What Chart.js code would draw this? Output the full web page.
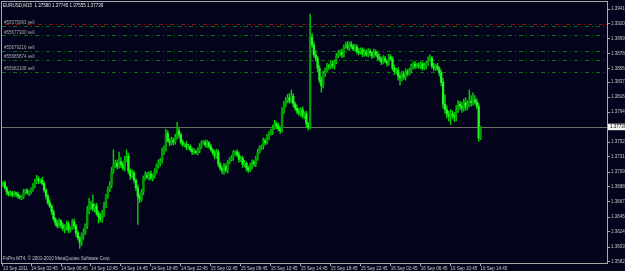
<!DOCTYPE html>
<html>
<head>
<meta charset="utf-8">
<script src="https://cdn.jsdelivr.net/npm/chart.js@4.4.1/dist/chart.umd.min.js"></script>
<style>
  html, body { margin: 0; padding: 0; background: #03031b; overflow: hidden; }
</style>
</head>
<body>
<canvas id="Plot" width="625" height="271"></canvas>
<script>
// EURUSD M15 closes, one per bar (open = previous close)
var firstOpen = 1.3692;
var closes = [
  1.3694,1.3687,1.3681,1.3678,1.3680,1.3677,1.3680,1.3678,1.3675,1.3673,1.3674,1.3681,1.3683,1.3680,1.3681,1.3684,
  1.3690,1.3695,1.3700,1.3697,1.3698,1.3693,1.3684,1.3675,1.3666,1.3661,1.3653,1.3643,1.3637,1.3633,1.3640,1.3634,
  1.3629,1.3633,1.3636,1.3627,1.3630,1.3639,1.3633,1.3623,1.3616,1.3609,1.3619,1.3624,1.3633,1.3653,1.3660,1.3664,
  1.3657,1.3661,1.3651,1.3646,1.3643,1.3649,1.3663,1.3675,1.3684,1.3691,1.3710,1.3720,1.3722,1.3717,1.3724,1.3720,
  1.3715,1.3727,1.3732,1.3711,1.3704,1.3708,1.3698,1.3687,1.3675,1.3671,1.3681,1.3701,1.3705,1.3702,1.3707,1.3701,
  1.3704,1.3710,1.3718,1.3722,1.3725,1.3738,1.3742,1.3764,1.3754,1.3751,1.3755,1.3752,1.3758,1.3768,1.3762,1.3752,
  1.3748,1.3749,1.3745,1.3746,1.3741,1.3738,1.3739,1.3737,1.3741,1.3746,1.3751,1.3752,1.3748,1.3751,1.3746,1.3741,
  1.3737,1.3732,1.3738,1.3721,1.3715,1.3711,1.3718,1.3712,1.3724,1.3727,1.3729,1.3737,1.3738,1.3734,1.3727,1.3729,
  1.3720,1.3722,1.3715,1.3712,1.3718,1.3724,1.3721,1.3729,1.3738,1.3744,1.3746,1.3754,1.3751,1.3758,1.3764,1.3766,
  1.3772,1.3778,1.3775,1.3771,1.3768,1.3795,1.3805,1.3812,1.3815,1.3810,1.3817,1.3806,1.3800,1.3796,1.3793,1.3798,
  1.3789,1.3792,1.3778,1.3773,1.3901,1.3890,1.3876,1.3871,1.3857,1.3840,1.3832,1.3849,1.3854,1.3860,1.3859,1.3863,
  1.3860,1.3866,1.3874,1.3877,1.3880,1.3876,1.3887,1.3890,1.3886,1.3891,1.3888,1.3884,1.3887,1.3881,1.3879,1.3883,
  1.3877,1.3880,1.3876,1.3881,1.3879,1.3874,1.3880,1.3877,1.3873,1.3870,1.3866,1.3871,1.3867,1.3864,1.3873,1.3870,
  1.3857,1.3852,1.3854,1.3846,1.3843,1.3849,1.3844,1.3852,1.3849,1.3853,1.3860,1.3863,1.3859,1.3861,1.3860,1.3863,
  1.3857,1.3860,1.3864,1.3869,1.3871,1.3860,1.3857,1.3860,1.3856,1.3850,1.3837,1.3806,1.3798,1.3792,1.3789,1.3792,
  1.3790,1.3788,1.3798,1.3806,1.3803,1.3800,1.3808,1.3802,1.3805,1.3810,1.3808,1.3812,1.3809,1.3803,1.3758,1.37739
];
// wick lengths in pips above / below the body
var upperWick = [
  2,3,2,1,3,2,2,1,3,2,2,4,2,3,2,3,
  3,4,5,3,2,4,3,2,3,4,2,3,2,4,3,2,
  3,2,4,3,2,3,4,2,3,2,4,5,3,8,12,4,
  13,3,4,3,5,6,4,3,4,5,6,21,4,5,14,6,
  4,5,9,4,3,5,3,2,4,3,4,3,5,4,3,4,
  3,4,3,5,4,6,5,6,4,3,4,3,5,12,4,3,
  3,2,4,3,2,3,4,2,3,4,3,2,3,4,2,3,
  2,3,4,3,2,3,4,3,2,3,4,3,2,3,4,3,
  3,4,2,3,4,3,2,3,4,3,2,4,3,5,3,4,
  4,5,3,4,3,6,5,4,5,6,9,4,3,5,4,3,
  4,3,4,2,33,5,4,6,3,4,5,4,3,4,3,5,
  4,3,4,5,3,4,3,4,5,3,4,3,4,3,4,3,
  3,4,3,4,3,2,4,3,3,4,3,4,3,2,4,3,
  3,4,3,4,3,4,3,4,3,4,3,3,4,3,4,3,
  3,4,3,4,5,3,4,3,4,3,4,6,13,5,4,6,
  5,4,6,5,4,6,5,7,6,16,8,10,6,5,4,0.6
];
var lowerWick = [
  3,2,4,3,2,3,2,4,3,2,3,2,3,2,4,3,
  2,3,2,4,3,2,3,4,3,2,4,3,4,3,2,4,
  3,6,6,4,3,2,4,5,3,8,4,5,3,4,3,4,
  3,4,3,9,4,5,3,4,3,2,4,3,4,3,2,4,
  3,4,3,4,5,3,4,4,40,5,3,4,3,2,4,3,
  4,3,2,3,4,3,4,3,2,4,3,4,3,2,4,3,
  2,3,4,3,2,4,3,2,3,4,3,2,3,4,3,2,
  3,4,3,4,3,4,5,3,4,3,2,3,4,3,4,3,
  4,3,4,3,2,4,3,4,3,2,3,4,3,2,3,2,
  3,2,4,3,4,2,3,3,4,3,2,4,3,4,3,4,
  3,4,5,4,2,4,3,4,5,4,9,3,4,3,4,3,
  3,4,3,2,3,4,3,2,3,4,3,2,3,4,3,2,
  4,3,2,3,4,3,2,3,4,3,4,3,2,4,3,2,
  3,4,3,6,10,4,3,4,3,2,3,4,3,2,3,4,
  3,2,4,3,2,3,4,3,2,4,5,6,5,6,7,12,
  5,7,6,4,5,6,4,5,4,3,5,4,3,4,5,2.5
];

var priceTicks = [1.39410,1.39200,1.38990,1.38780,1.38565,1.38370,1.38160,1.37945,
                  1.37520,1.37310,1.37095,1.36885,1.36670,1.36455,1.36245,1.36030,1.35820];
var timeLabels = ['13 Sep 2011','14 Sep 02:45','14 Sep 06:45','14 Sep 10:45','14 Sep 14:45',
                  '14 Sep 18:45','14 Sep 22:45','15 Sep 02:45','15 Sep 06:45','15 Sep 10:45',
                  '15 Sep 14:45','15 Sep 18:45','15 Sep 22:45','16 Sep 02:45','16 Sep 06:45',
                  '16 Sep 10:45','16 Sep 14:45'];
var timeLabelBars = [0,15,31,47,63,79,95,111,127,143,159,175,191,207,223,239,255];

var orderTickets = ['#55575963 sell','#55677300 sell','#55679216 sell','#55685874 sell','#55682108 sell'];
var orderPrices = [1.39176,1.39041,1.38814,1.38693,1.38516];
var stopPrices = [1.39190];
var bid = 1.37739;
var header = 'EURUSD,M15  1.37580 1.37745 1.37555 1.37739';
var footer = 'FxPro MT4, \u00a9 2001-2010 MetaQuotes Software Corp.';

var slots = 323;
var FONT = '"Liberation Sans", Arial, sans-serif';

var labels = [];
for (var i = 0; i < slots; i++) labels.push('');
timeLabelBars.forEach(function(b, k){ labels[b] = timeLabels[k]; });

var bodies = [], wicks = [], bodyCol = [];
for (var i = 0; i < closes.length; i++) {
  var o = i == 0 ? firstOpen : closes[i-1];
  var c = closes[i];
  bodies.push([o, c]);
  wicks.push([Math.min(o,c) - lowerWick[i]*0.0001, Math.max(o,c) + upperWick[i]*0.0001]);
  bodyCol.push(c >= o ? '#009c00' : '#22f522');
}

var mt4 = {
  id: 'mt4',
  beforeDraw: function(chart){
    var c = chart.ctx;
    c.save();
    c.fillStyle = '#03031b';
    c.fillRect(0, 0, chart.width, chart.height);
    c.restore();
  },
  beforeDatasetsDraw: function(chart){
    var c = chart.ctx, a = chart.chartArea, y = chart.scales.y;
    c.save();
    c.lineWidth = 1;
    c.setLineDash([4,3,1,3]);
    orderPrices.forEach(function(p){
      var py = Math.round(y.getPixelForValue(p)) + 0.5;
      c.strokeStyle = '#0b720b';
      c.beginPath(); c.moveTo(a.left, py); c.lineTo(a.right, py); c.stroke();
    });
    stopPrices.forEach(function(p){
      var py = Math.round(y.getPixelForValue(p)) - 0.5;
      c.strokeStyle = '#8c1010';
      c.beginPath(); c.moveTo(a.left + 3, py); c.lineTo(a.right, py); c.stroke();
    });
    c.setLineDash([]);
    c.font = '4.5px ' + FONT;
    c.fillStyle = '#a8a8a8';
    c.textBaseline = 'bottom';
    orderTickets.forEach(function(t, k){
      c.fillText(t, a.left + 2, y.getPixelForValue(orderPrices[k]) - 0.5);
    });
    // bid line
    var by = Math.round(y.getPixelForValue(bid)) + 0.5;
    c.strokeStyle = '#6f6f60';
    c.beginPath(); c.moveTo(a.left, by); c.lineTo(a.right, by); c.stroke();
    c.restore();
  },
  afterDraw: function(chart){
    var c = chart.ctx, a = chart.chartArea, y = chart.scales.y;
    c.save();
    c.strokeStyle = '#a8a8a8';
    c.lineWidth = 1;
    c.strokeRect(a.left - 0.5, a.top - 0.5, a.right - a.left + 1, a.bottom - a.top + 1);
    c.font = '4.5px ' + FONT;
    c.textBaseline = 'middle';
    c.fillStyle = '#e6e6e6';
    c.fillText(header, 3, 6);
    c.fillStyle = '#c8c8c8';
    c.fillText(footer, 3, 259);
    var by = y.getPixelForValue(bid);
    c.fillStyle = '#f4f4f4';
    c.fillRect(a.right + 1, by - 3, chart.width - a.right, 6.5);
    c.fillStyle = '#000000';
    c.fillText(bid.toFixed(5), a.right + 3, by + 0.3);
    c.restore();
  }
};

var tickFont = { family: FONT, size: 4.5 };

var myChart = new Chart(document.getElementById('Plot').getContext('2d'), {
  type: 'bar',
  data: {
    labels: labels,
    datasets: [{
      label: 'body',
      data: bodies,
      backgroundColor: bodyCol,
      barThickness: 1.7,
      minBarLength: 1,
      grouped: false
    }, {
      label: 'wick',
      data: wicks,
      backgroundColor: '#00d200',
      barThickness: 0.8,
      grouped: false
    }]
  },
  options: {
    responsive: false,
    animation: false,
    layout: { padding: { left: 2, top: 2, right: 0, bottom: 0 } },
    plugins: { legend: { display: false }, tooltip: { enabled: false } },
    scales: {
      x: {
        type: 'category',
        offset: true,
        afterFit: function(s){ s.height = 8; s.paddingLeft = 0; s.paddingRight = 0; },
        border: { display: false },
        grid: { drawOnChartArea: false, offset: false, tickLength: 3, color: '#a8a8a8' },
        ticks: {
          autoSkip: false, maxRotation: 0, minRotation: 0, align: 'start', padding: 0,
          color: '#c8c8c8', font: tickFont,
          callback: function(v){ return this.getLabelForValue(v) || null; }
        }
      },
      y: {
        position: 'right',
        min: 1.35803,
        max: 1.39510,
        afterBuildTicks: function(s){ s.ticks = priceTicks.map(function(v){ return { value: v }; }); },
        afterFit: function(s){ s.width = 18; s.paddingTop = 0; s.paddingBottom = 0; },
        border: { display: false },
        grid: { drawOnChartArea: false, tickLength: 3, color: '#a8a8a8' },
        ticks: {
          autoSkip: false, padding: 1, color: '#c8c8c8', font: tickFont,
          callback: function(v){ return v.toFixed(5); }
        }
      }
    }
  },
  plugins: [mt4]
});
</script>
</body>
</html>
